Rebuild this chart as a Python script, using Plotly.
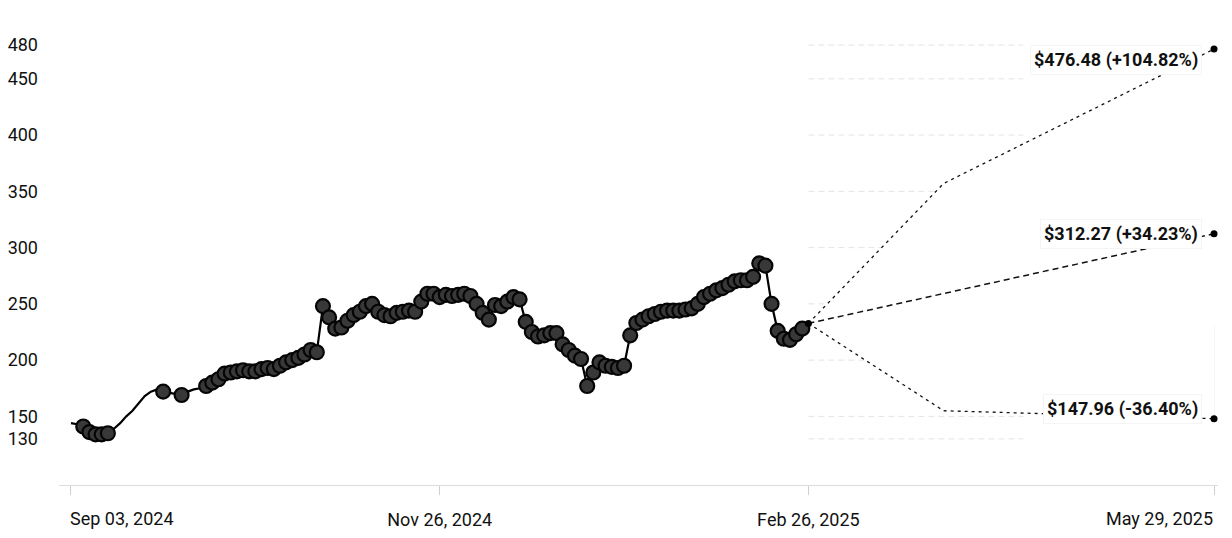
import pandas as pd
import plotly.graph_objects as go

# ---------------- data ----------------
hist_prices = [
    144, 143, 141, 136, 134, 134, 135, 139, 144, 150,
    155, 161, 168, 172, 174, 172, 171, 170, 169, 172,
    174, 175, 177, 180, 183, 188, 189, 190, 191, 190,
    190, 192, 193, 192, 195, 198, 200, 202, 205, 209,
    207, 248, 238, 228, 229, 235, 240, 243, 248, 250,
    243, 240, 239, 242, 243, 244, 243, 252, 259, 259,
    256, 258, 257, 258, 259, 257, 250, 242, 236, 249,
    248, 252, 256, 254, 234, 225, 221, 222, 224, 224,
    214, 209, 204, 201, 177, 189, 198, 195, 194, 193,
    195, 222, 233, 236, 239, 241, 243, 244, 244, 244,
    245, 246, 250, 256, 259, 262, 264, 267, 270, 271,
    271, 274, 286, 284, 250, 226, 219, 218, 223, 228,
    232.63,
]
market_holidays = ["2024-11-28", "2024-12-25", "2025-01-01", "2025-01-09",
                   "2025-01-20", "2025-02-17"]
no_marker_idx = [0, 1, 7, 8, 9, 10, 11, 12, 13, 14, 16, 17, 19, 20, 21, 120]

forecast_dates = ["2025-02-26", "2025-03-28", "2025-05-29"]
forecast_high = [232.63, 357, 476.48]
forecast_low = [232.63, 155, 147.96]
forecast_mid_dates = ["2025-02-26", "2025-05-29"]
forecast_mid = [232.63, 312.27]

y_ticks = [130, 150, 200, 250, 300, 350, 400, 450, 480]
x_tick_dates = ["2024-09-03", "2024-11-26", "2025-02-26", "2025-05-29"]
x_tick_labels = ["Sep 03, 2024", "Nov 26, 2024", "Feb 26, 2025", "May 29, 2025"]

# ---------------- categories ----------------
hist_dates = pd.bdate_range("2024-09-03", "2025-02-26", freq="C",
                            holidays=market_holidays).strftime("%Y-%m-%d").tolist()
future_dates = pd.bdate_range("2025-02-27", "2025-05-29").strftime("%Y-%m-%d").tolist()
all_dates = hist_dates + future_dates

marker_dates = [d for i, d in enumerate(hist_dates) if i not in no_marker_idx]
marker_prices = [p for i, p in enumerate(hist_prices) if i not in no_marker_idx]
last_price = hist_prices[-1]

FONT = "Roboto, Arial, sans-serif"
INK = "#111111"

fig = go.Figure()

# white fan (covers grid lines inside the forecast cone)
fig.add_trace(go.Scatter(
    x=forecast_dates + forecast_dates[::-1],
    y=forecast_low + forecast_high[::-1],
    fill="toself", fillcolor="white", mode="lines",
    line=dict(width=0, color="white"), hoverinfo="skip", showlegend=False))

# forecast lines
fig.add_trace(go.Scatter(x=forecast_dates, y=forecast_high, mode="lines",
                         line=dict(color=INK, width=1.3, dash="3px,4px"),
                         showlegend=False))
fig.add_trace(go.Scatter(x=forecast_mid_dates, y=forecast_mid, mode="lines",
                         line=dict(color=INK, width=1.5, dash="6px,4px"),
                         showlegend=False))
fig.add_trace(go.Scatter(x=forecast_dates, y=forecast_low, mode="lines",
                         line=dict(color=INK, width=1.3, dash="3px,4px"),
                         showlegend=False))

# history line
fig.add_trace(go.Scatter(x=hist_dates, y=hist_prices, mode="lines",
                         line=dict(color="#000000", width=2.2),
                         showlegend=False))
# history markers
fig.add_trace(go.Scatter(x=marker_dates, y=marker_prices, mode="markers",
                         marker=dict(size=14, color="#383838",
                                     line=dict(color="#050505", width=2.2)),
                         showlegend=False))

# end / start dots
end_vals = [forecast_high[-1], forecast_mid[-1], forecast_low[-1]]
fig.add_trace(go.Scatter(x=[forecast_dates[-1]] * 3 + [forecast_dates[0]],
                         y=end_vals + [last_price], mode="markers",
                         marker=dict(size=7, color="#000000"),
                         showlegend=False))

# grid segments in forecast area
shapes = []
for v in y_ticks:
    shapes.append(dict(type="line", xref="x", yref="y",
                       x0="2025-02-26", x1="2025-04-16", y0=v, y1=v,
                       line=dict(color="#e4e4e4", width=1, dash="6px,4px"),
                       layer="below"))
shapes.append(dict(type="line", xref="x", yref="y",
                   x0="2025-05-29", x1="2025-05-29", y0=151, y1=231,
                   line=dict(color="#ececec", width=1), layer="below"))

annotations = []
# end labels of the x axis (left / right aligned)
annotations.append(dict(x=x_tick_dates[0], xref="x", y=-0.071, yref="paper",
                        text=x_tick_labels[0], showarrow=False, xanchor="left",
                        yanchor="middle", xshift=-3,
                        font=dict(family=FONT, size=18, color=INK)))
annotations.append(dict(x=x_tick_dates[-1], xref="x", y=-0.071, yref="paper",
                        text=x_tick_labels[-1], showarrow=False, xanchor="right",
                        yanchor="middle", xshift=1,
                        font=dict(family=FONT, size=18, color=INK)))

# forecast value labels
for v, ysh in zip(end_vals, [-11, 0, 10]):
    pct = (v / last_price - 1) * 100
    annotations.append(dict(
        x=forecast_dates[-1], xref="x", y=v, yref="y",
        text=f"<b>${v:.2f} ({pct:+.2f}%)</b>", showarrow=False,
        xanchor="right", yanchor="middle", xshift=-12, yshift=ysh,
        bgcolor="white", bordercolor="#f4f4f4", borderwidth=1, borderpad=3,
        font=dict(family=FONT, size=18, color=INK)))

# page body has an 8px margin: size/margins chosen so the plot area lands
# at x 59..1218, y 20..485 in the 1232x538 window
fig.update_layout(
    width=1216, height=522, autosize=False,
    margin=dict(l=51, r=6, t=12, b=45, autoexpand=False),
    plot_bgcolor="white", paper_bgcolor="white",
    showlegend=False,
    shapes=shapes, annotations=annotations,
    font=dict(family=FONT, color=INK),
    xaxis=dict(
        type="category", categoryorder="array", categoryarray=all_dates,
        range=[-1.95, len(all_dates) - 1 + 0.65],
        automargin=False,
        showgrid=False, zeroline=False,
        showline=True, linecolor="#dcdcdc", linewidth=1,
        ticks="outside", ticklen=9, tickcolor="#cfcfcf", tickwidth=1,
        tickvals=x_tick_dates,
        ticktext=["", x_tick_labels[1], x_tick_labels[2], ""],
        tickangle=0, ticklabelstandoff=9,
        tickfont=dict(family=FONT, size=18, color=INK),
    ),
    yaxis=dict(
        range=[89, 502.3], tickvals=y_ticks, ticktext=[str(t) for t in y_ticks],
        automargin=False,
        showgrid=False, zeroline=False, showline=False, ticks="",
        ticklabelstandoff=20,
        tickfont=dict(family=FONT, size=18, color=INK),
    ),
)

fig.write_html("out.html")
